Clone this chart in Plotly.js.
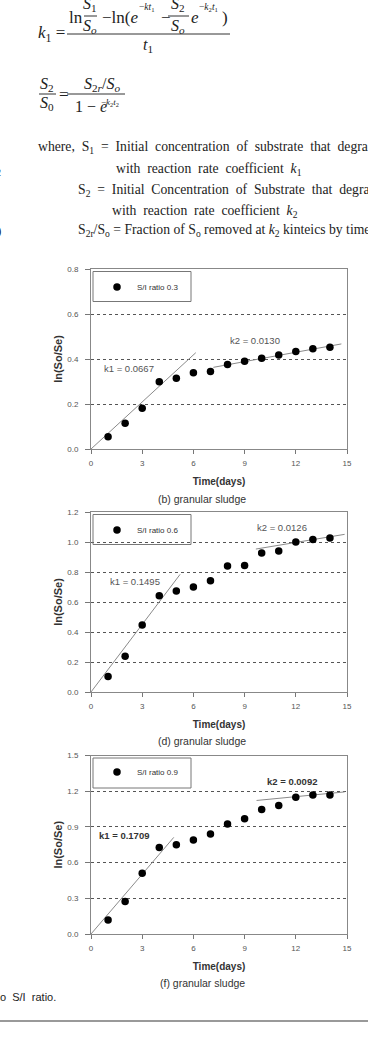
<!DOCTYPE html>
<html>
<head>
<meta charset="utf-8">
<script src="https://cdn.plot.ly/plotly-3.0.1.min.js"></script>
<style>html,body{margin:0;padding:0;background:#fff;}#chart{width:368px;height:1037px;}</style>
</head>
<body>
<div id="chart"></div>
<script>
// ---------- data ----------
const days = [1,2,3,4,5,6,7,8,9,10,11,12,13,14];
const lnRatio03 = [0.055,0.114,0.181,0.299,0.314,0.339,0.344,0.376,0.390,0.403,0.418,0.433,0.446,0.452];
const lnRatio06 = [0.104,0.238,0.447,0.642,0.673,0.700,0.742,0.840,0.844,0.927,0.940,1.000,1.016,1.027];
const lnRatio09 = [0.117,0.273,0.511,0.726,0.751,0.790,0.840,0.924,0.968,1.047,1.080,1.150,1.169,1.169];

const fitK1x_03 = [0, 6.14],  fitK1y_03 = [0, 0.428];
const fitK2x_03 = [7.17, 14.67], fitK2y_03 = [0.363, 0.467];
const fitK1x_06 = [0, 5.22],  fitK1y_06 = [0, 0.784];
const fitK2x_06 = [9.66, 14.86], fitK2y_06 = [0.953, 1.051];
const fitK1x_09 = [0, 4.85],  fitK1y_09 = [0, 0.812];
const fitK2x_09 = [9.7, 14.86], fitK2y_09 = [1.122, 1.194];

const seriesNames = ['S/I ratio 0.3', 'S/I ratio 0.6', 'S/I ratio 0.9'];
const k1Labels = ['k1 = 0.0667', 'k1 = 0.1495', 'k1 = 0.1709'];
const k2Labels = ['k2 = 0.0130', 'k2 = 0.0126', 'k2 = 0.0092'];
const captions = ['(b) granular sludge', '(d) granular sludge', '(f) granular sludge'];
const yRanges = [[0,0.8],[0,1.2],[0,1.5]];
const yDticks = [0.2, 0.2, 0.3];

// ---------- layout helpers ----------
const W = 368, H = 1037;
const px = x => x / W;
const py = y => 1 - y / H;
const SANS = 'Liberation Sans, Arial, sans-serif';
const SERIF = 'Liberation Serif, Times New Roman, serif';

// panel pixel boxes
const panels = [
  {left:91, right:347, top:269, bottom:449, k1:[2.2,0.356], k2:[9.6,0.48], bold:false, capY:499, legY:287},
  {left:91, right:347, top:512, bottom:692, k1:[2.6,0.738], k2:[11.2,1.096], bold:false, capY:741, legY:530},
  {left:91, right:347, top:755.5, bottom:934, k1:[1.95,0.826], k2:[11.8,1.284], bold:true, capY:983, legY:772}
];
const yData = [lnRatio03, lnRatio06, lnRatio09];
const fits = [
  [[fitK1x_03,fitK1y_03],[fitK2x_03,fitK2y_03]],
  [[fitK1x_06,fitK1y_06],[fitK2x_06,fitK2y_06]],
  [[fitK1x_09,fitK1y_09],[fitK2x_09,fitK2y_09]]
];

const traces = [];
const layout = {
  width: W, height: H,
  margin: {l:0, r:0, t:0, b:0},
  paper_bgcolor: '#fff', plot_bgcolor: '#fff',
  showlegend: true,
  font: {family: SANS, color: '#333'},
  shapes: [], annotations: []
};

panels.forEach((p, i) => {
  const n = i + 1;
  const xa = 'x' + (n === 1 ? '' : n), ya = 'y' + (n === 1 ? '' : n);
  const legName = 'legend' + (n === 1 ? '' : n);
  fits[i].forEach(f => traces.push({
    type: 'scatter', mode: 'lines', x: f[0], y: f[1], xaxis: xa, yaxis: ya,
    line: {color: '#8a8a8a', width: 1}, showlegend: false, hoverinfo: 'skip'
  }));
  traces.push({
    type: 'scatter', mode: 'markers', x: days, y: yData[i], xaxis: xa, yaxis: ya,
    name: seriesNames[i], legend: legName,
    marker: {color: '#000', size: 7.5}
  });

  layout['xaxis' + (n === 1 ? '' : n)] = {
    domain: [px(p.left), px(p.right)], anchor: ya,
    range: [0, 15], tick0: 0, dtick: 3,
    ticks: 'outside', ticklen: 4, tickcolor: '#777', ticklabelstandoff: 2,
    showline: true, linecolor: '#888', linewidth: 1, mirror: true,
    showgrid: false, zeroline: false, automargin: false,
    tickfont: {size: 8, color: '#555', family: SANS},
    title: {text: '<b>Time(days)</b>', font: {size: 10, color: '#333', family: SANS}, standoff: 11}
  };
  layout['yaxis' + (n === 1 ? '' : n)] = {
    domain: [py(p.bottom), py(p.top)], anchor: xa,
    range: yRanges[i], tick0: 0, dtick: yDticks[i], tickformat: '.1f',
    ticks: 'outside', ticklen: 5, tickcolor: '#777', ticklabelstandoff: 5,
    showline: true, linecolor: '#888', linewidth: 1, mirror: true,
    showgrid: true, gridcolor: '#555', griddash: 'dot', gridwidth: 1,
    zeroline: false, automargin: false,
    tickfont: {size: 8, color: '#555', family: SANS},
    title: {text: '<b>ln(So/Se)</b>', font: {size: 11, color: '#333', family: SANS}, standoff: 2}
  };
  layout[legName] = {
    x: px(97), xanchor: 'left', y: py(p.legY), yanchor: 'middle',
    bgcolor: 'rgba(0,0,0,0)', borderwidth: 0,
    font: {size: 8, color: '#333', family: SANS}
  };
  // legend frame
  layout.shapes.push({type: 'rect', xref: 'paper', yref: 'paper',
    x0: px(93), x1: px(191), y0: py(p.top + 2.5), y1: py(p.top + 32.5),
    line: {color: '#777', width: 1}, fillcolor: 'rgba(0,0,0,0)'});
  // k labels
  const kf = {size: 9.5, color: p.bold ? '#333' : '#555', family: SANS};
  layout.annotations.push({xref: xa, yref: ya, x: p.k1[0], y: p.k1[1], showarrow: false,
    xanchor: 'center', yanchor: 'middle',
    text: p.bold ? '<b>' + k1Labels[i] + '</b>' : k1Labels[i], font: kf});
  layout.annotations.push({xref: xa, yref: ya, x: p.k2[0], y: p.k2[1], showarrow: false,
    xanchor: 'center', yanchor: 'middle',
    text: p.bold ? '<b>' + k2Labels[i] + '</b>' : k2Labels[i], font: kf});
  // caption
  layout.annotations.push({xref: 'paper', yref: 'paper', x: px(202), y: py(p.capY),
    xanchor: 'center', yanchor: 'middle',
    showarrow: false, text: captions[i], font: {size: 10.5, color: '#333', family: SANS}});
});

// ---------- equation text (real text) ----------
function T(text, x, y, size, anchor, extra) {
  layout.annotations.push(Object.assign({xref: 'paper', yref: 'paper', x: px(x), y: py(y),
    xanchor: anchor || 'left', yanchor: 'middle', showarrow: false, text: text,
    font: {family: SERIF, size: size || 17, color: '#222'}}, extra || {}));
}
function bar(x0, x1, y) {
  layout.shapes.push({type: 'line', xref: 'paper', yref: 'paper', x0: px(x0), x1: px(x1),
    y0: py(y), y1: py(y), line: {color: '#333', width: 1}});
}
// equation 1
T('<i>k</i><sub>1</sub> =', 36, 34, 17);
T('ln', 67, 17, 17);
T('<i>S</i><sub>1</sub>', 90, 5, 16, 'center');
T('<i>S</i><sub><i>o</i></sub>', 90, 26, 16, 'center');
bar(84, 97, 16);
T('−ln(<i>e</i>', 100, 17, 17);
T('−<i>kt</i><sub>1</sub>', 137, 8, 9.5);
T('−', 159, 17, 17);
T('<i>S</i><sub>2</sub>', 178, 5, 16, 'center');
T('<i>S</i><sub><i>o</i></sub>', 178, 27, 16, 'center');
bar(168, 189, 16);
T('<i>e</i>', 189, 17, 17);
T('−<i>k</i><sub>2</sub><i>t</i><sub>1</sub>', 197, 8, 9.5);
T(')', 220, 17, 17);
bar(67, 230, 34);
T('<i>t</i><sub>1</sub>', 148, 46, 16, 'center');
// equation 2
T('<i>S</i><sub>2</sub>', 47, 85, 16, 'center');
bar(39, 56, 94);
T('<i>S</i><sub>0</sub>', 47, 104, 16, 'center');
T('=', 57, 94, 17);
T('<i>S</i><sub>2<i>r</i></sub>/<i>S</i><sub><i>o</i></sub>', 102, 84, 16, 'center');
bar(67, 125, 94);
T('1 − <i>e</i>', 73, 107, 16);
T('−<i>k</i><sub>2</sub><i>t</i><sub>2</sub>', 99, 102, 9);
// definitions
const sp = '\u00a0\u00a0';
const DF = 13.7;
T(['where,', 'S<sub>1</sub>', '=', 'Initial', 'concentration', 'of', 'substrate', 'that', 'degrad'].join(sp), 36, 148, DF);
T(['with', 'reaction', 'rate', 'coefficient', '<i>k</i><sub>1</sub>'].join(sp), 114, 169, DF);
T(['S<sub>2</sub>', '=', 'Initial', 'Concentration', 'of', 'Substrate', 'that', 'degrad'].join(sp), 76, 190, DF);
T(['with', 'reaction', 'rate', 'coefficient', '<i>k</i><sub>2</sub>'].join(sp), 110, 211, DF);
T('S<sub>2r</sub>/S<sub>o</sub> = Fraction of S<sub>o</sub> removed at <i>k</i><sub>2</sub> kinteics by time', 76, 231, DF);
// clipped fragments at left edge
T('2', 3, 172, 10, 'right');
T(')', 3, 231, 13, 'right');
// bottom text and rule
layout.annotations.push({xref: 'paper', yref: 'paper', x: px(-2), y: py(997), xanchor: 'left', yanchor: 'middle',
  showarrow: false, text: 'o\u00a0 S/I\u00a0 ratio.', font: {family: SANS, size: 11, color: '#222'}});
layout.shapes.push({type: 'line', xref: 'paper', yref: 'paper', x0: 0, x1: 1,
  y0: py(1021), y1: py(1021), line: {color: '#777', width: 1.5}});

Plotly.newPlot('chart', traces, layout, {displayModeBar: false, staticPlot: true});
</script>
</body>
</html>
